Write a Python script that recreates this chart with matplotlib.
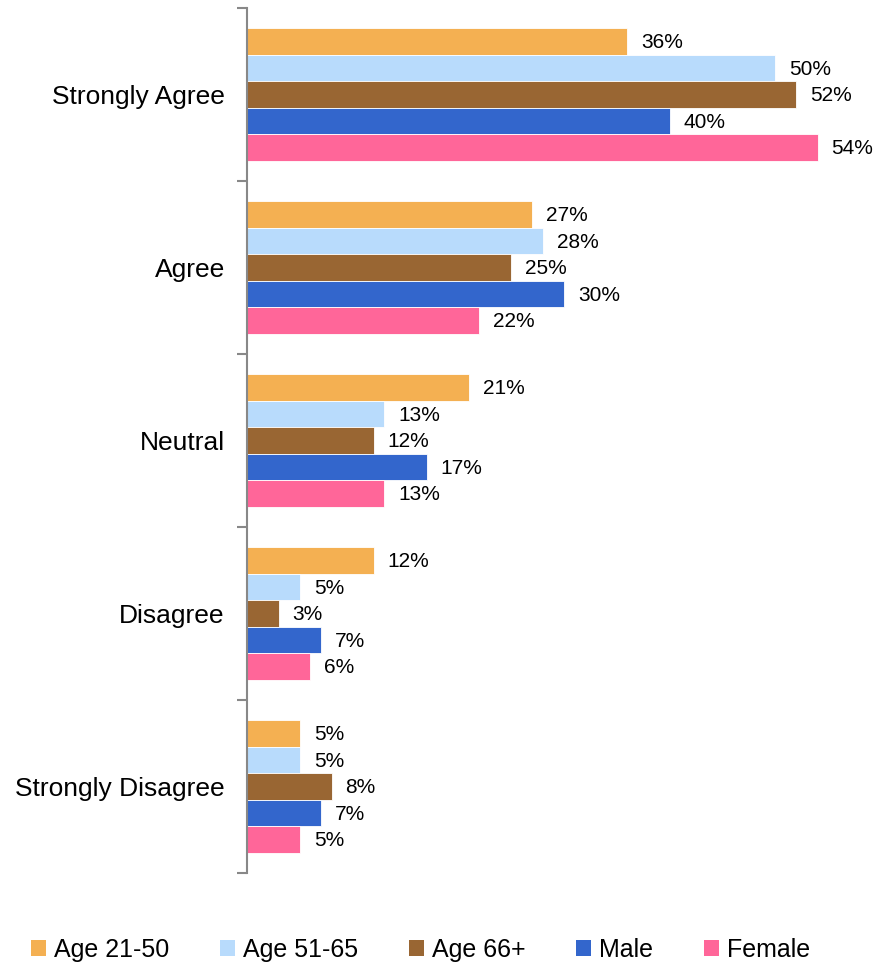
import numpy as np
import matplotlib.pyplot as plt
from matplotlib.patches import Patch

plt.rcParams['font.family'] = ['Liberation Sans', 'DejaVu Sans']

categories = ["Strongly Agree", "Agree", "Neutral", "Disagree", "Strongly Disagree"]
series_names = ["Age 21-50", "Age 51-65", "Age 66+", "Male", "Female"]
age_21_50 = [36, 27, 21, 12, 5]
age_51_65 = [50, 28, 13, 5, 5]
age_66_plus = [52, 25, 12, 3, 8]
male = [40, 30, 17, 7, 7]
female = [54, 22, 13, 6, 5]
series_values = [age_21_50, age_51_65, age_66_plus, male, female]
colors = ["#F4B052", "#B8DBFC", "#996633", "#3366CC", "#FF6699"]

fig = plt.figure(figsize=(8.91, 9.65), dpi=100)
ax = fig.add_axes([247 / 891, 1 - 873 / 965, 634 / 891, 865 / 965])

y = np.arange(len(categories))
bar_h = 0.153
for i, (vals, col) in enumerate(zip(series_values, colors)):
    pos = y + (i - 2) * bar_h
    bars = ax.barh(pos, vals, height=bar_h, color=col, edgecolor="white",
                   linewidth=0.6)
    for rect, v in zip(bars, vals):
        ax.annotate(f"{v}%", (rect.get_width(), rect.get_y() + rect.get_height() / 2),
                    xytext=(10, -1), textcoords="offset points",
                    ha="left", va="center", fontsize=15, color="black")

ax.set_xlim(0, 60)
ax.set_ylim(len(categories) - 0.5, -0.5)
ax.set_yticks(y)
ax.set_yticklabels(categories, fontsize=19)
ax.set_yticks(np.arange(-0.5, len(categories)), minor=True)
ax.tick_params(axis="y", which="major", length=0, pad=16)
ax.tick_params(axis="y", which="minor", length=7, width=1.5, color="#888888")
ax.set_xticks([])
for side in ["top", "right", "bottom"]:
    ax.spines[side].set_visible(False)
ax.spines["left"].set_color("#888888")
ax.spines["left"].set_linewidth(1.5)

handles = [Patch(facecolor=c, edgecolor="none") for c in colors]
fig.legend(handles, series_names, loc="center", bbox_to_anchor=(0.472, 0.016),
           ncol=5, frameon=False, fontsize=18, handlelength=0.6, handleheight=0.6,
           handletextpad=0.3, columnspacing=2.05)

fig.savefig("out.png", dpi=100)
